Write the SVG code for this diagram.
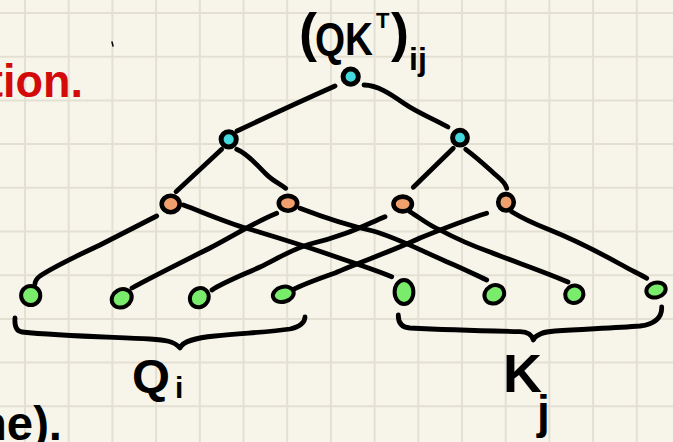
<svg xmlns="http://www.w3.org/2000/svg" width="673" height="442" viewBox="0 0 673 442">
  <style>
    .grid { stroke: #e3e0d3; stroke-width: 2; fill: none; }
    .edge { stroke: #000; stroke-width: 4.8; fill: none; stroke-linecap: round; stroke-linejoin: round; }
    .brace { stroke: #000; stroke-width: 4.8; fill: none; stroke-linecap: round; stroke-linejoin: round; }
    .cyan { fill: #45d8dc; stroke: #000; stroke-width: 5; }
    .orange { fill: #f0a06c; stroke: #000; stroke-width: 4.6; }
    .green { fill: #79ec6c; stroke: #000; stroke-width: 4; }
    .hand { font-family: "Liberation Sans", Arial, sans-serif; font-weight: bold; fill: #000; }
    .red { fill: #d20a0a; }
  </style>
  <rect x="0" y="0" width="673" height="442" fill="#f7f5ea"/>
  <g id="grid">
    <path class="grid" d="M25,0V442M68.7,0V442M112.4,0V442M156.1,0V442M199.8,0V442M243.5,0V442M287.2,0V442M330.9,0V442M374.6,0V442M418.3,0V442M462,0V442M505.7,0V442M549.4,0V442M593.1,0V442M636.8,0V442"/>
    <path class="grid" d="M0,13H673M0,56.7H673M0,100.4H673M0,144.1H673M0,187.8H673M0,231.5H673M0,275.2H673M0,318.9H673M0,362.6H673M0,406.3H673"/>
  </g>
  <g id="connectors">
    <path class="edge" d="M335,86 Q290,106 237,131"/>
    <path class="edge" d="M364,85 C378,85 392,95 405,104 C418,113 432,118 448,127"/>
    <path class="edge" d="M221.7,149.3 L176,191.7"/>
    <path class="edge" d="M236.7,149.3 C248,154 258,166 266,174 C273,181 280,184 285.7,188.3"/>
    <path class="edge" d="M453.3,148.3 L413.3,187.3"/>
    <path class="edge" d="M465.7,149.3 C480,160 490,170 497,176 C503,181 506,185 506.7,188.3"/>
    <path class="edge" d="M156.7,216 L100,245 Q55,266 40,276 Q35,280 35,284"/>
    <path class="edge" d="M183.3,205 C200,211 225,222 246.7,228.3 C265,234 300,244 340,258.3 C360,265 380,272 391.7,276.7"/>
    <path class="edge" d="M276.7,213.3 C255,222 235,235 210,248 C180,263 150,278 132,288"/>
    <path class="edge" d="M300,208.3 C320,216 350,226 373,231 C395,237 420,250 446.7,261.7 C462,268 476,275 486.7,280"/>
    <path class="edge" d="M385,216.7 C365,225 345,236 310,244 C290,250 275,260 260,267 C240,276 222,283 212,290"/>
    <path class="edge" d="M410,211.7 C420,218 430,226 440,230 C455,238 470,245 490,252 C515,262 540,270 568,282"/>
    <path class="edge" d="M486.7,213.3 C465,220 445,228 420,238 C395,250 360,262 335,273 C315,280 300,286 292,290"/>
    <path class="edge" d="M511.7,211.7 C525,220 535,224 550,230 C575,240 600,253 620,264 C632,271 640,274 646.7,278.3"/>
  </g>
  <g id="root"><circle class="cyan" cx="350.7" cy="76.7" r="7.6"/></g>
  <g id="mid-left"><circle class="cyan" cx="228.7" cy="139.3" r="7.6"/></g>
  <g id="mid-right"><circle class="cyan" cx="460" cy="137.7" r="7.4"/></g>
  <g id="o1"><ellipse class="orange" cx="170.7" cy="204" rx="9" ry="8.2"/></g>
  <g id="o2"><ellipse class="orange" cx="288" cy="203.3" rx="9.2" ry="7.4"/></g>
  <g id="o3"><ellipse class="orange" cx="402.7" cy="204" rx="9.2" ry="7.4"/></g>
  <g id="o4"><ellipse class="orange" cx="506" cy="202.3" rx="7.8" ry="8.2"/></g>
  <g id="leaf1"><ellipse class="green" cx="30.7" cy="295.5" rx="9.6" ry="9.6"/></g>
  <g id="leaf2"><ellipse class="green" cx="121.7" cy="298.3" rx="10.4" ry="8.8" transform="rotate(-30 121.7 298.3)"/></g>
  <g id="leaf3"><ellipse class="green" cx="199.3" cy="297.7" rx="10" ry="9" transform="rotate(-50 199.3 297.7)"/></g>
  <g id="leaf4"><ellipse class="green" cx="283.3" cy="294.3" rx="10.6" ry="7.4" transform="rotate(-15 283.3 294.3)"/></g>
  <g id="leaf5"><ellipse class="green" cx="404" cy="292" rx="9.4" ry="12"/></g>
  <g id="leaf6"><ellipse class="green" cx="494.3" cy="294.3" rx="10.2" ry="8.8" transform="rotate(-30 494.3 294.3)"/></g>
  <g id="leaf7"><ellipse class="green" cx="574.3" cy="294.3" rx="9.2" ry="8.6" transform="rotate(-20 574.3 294.3)"/></g>
  <g id="leaf8"><ellipse class="green" cx="656" cy="290" rx="9.8" ry="7.4" transform="rotate(-15 656 290)"/></g>
  <g id="brace-q"><path class="brace" d="M15,318 Q14,331 22,332 C60,336 110,337 150,339 C165,340 174,341 180,348 C183,341 195,338 215,336 C245,333 270,332 290,329 C300,327 305,322 305,317"/></g>
  <g id="brace-k"><path class="brace" d="M398.3,315 Q398,327 410,328 C450,330 490,331 520,331.7 C528,332 532,335 533.3,340 C536,334 543,332 555,331 C585,329 615,328 640,326 C655,324 662,317 661.7,307"/></g>
  <g id="label-qkt">
    <text class="hand" font-size="54"><tspan x="299" y="51">(</tspan><tspan x="315" y="55" font-size="46" textLength="58" lengthAdjust="spacingAndGlyphs">QK</tspan><tspan x="376" y="28" font-size="22">T</tspan><tspan x="391" y="51">)</tspan><tspan x="409" y="70" font-size="32">ij</tspan></text>
  </g>
  <g id="label-qi">
    <text class="hand" font-size="46"><tspan x="132" y="392" textLength="38" lengthAdjust="spacingAndGlyphs">Q</tspan><tspan x="175" y="398" font-size="30">i</tspan></text>
  </g>
  <g id="label-kj">
    <text class="hand" font-size="54"><tspan x="503" y="392">K</tspan><tspan x="537" y="428" font-size="46">j</tspan></text>
  </g>
  <g id="label-tion">
    <text class="hand red" x="-12" y="97" font-size="46" textLength="95" lengthAdjust="spacingAndGlyphs">tion.</text>
  </g>
  <g id="label-ne">
    <text class="hand" x="-22" y="440" font-size="48" textLength="84" lengthAdjust="spacingAndGlyphs">ne).</text>
  </g>
  <path d="M112,42 L113,46" stroke="#000" stroke-width="1.5" stroke-linecap="round"/>
</svg>
